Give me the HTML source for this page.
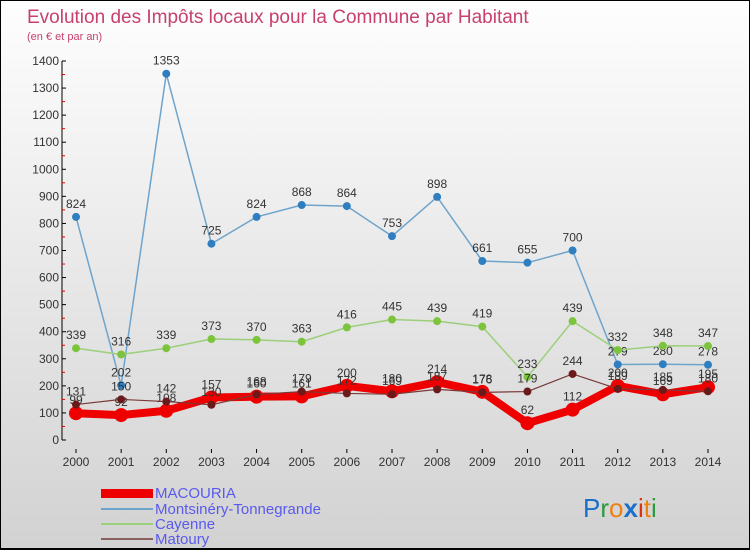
<!DOCTYPE html>
<html><head><meta charset="utf-8"><style>
body{margin:0}
#c{width:750px;height:550px;position:relative;overflow:hidden;background:linear-gradient(#fefefe,#d2d2d2);font-family:"Liberation Sans","DejaVu Sans",sans-serif;box-sizing:border-box;border:1px solid #000;border-bottom-width:2px}
svg text{font-family:"Liberation Sans","DejaVu Sans",sans-serif}
</style></head><body>
<div id="c">
<svg id="s" width="750" height="550" style="position:absolute;left:0;top:0">
<text x="26" y="22" font-size="19" fill="#c8406e">Evolution des Impôts locaux pour la Commune par Habitant</text>
<text x="26" y="39" font-size="11" fill="#c8406e">(en € et par an)</text>
<g id="axes"></g><g id="series"></g>
<g>
<rect x="100" y="488" width="52" height="9" fill="#e00"/>
<text x="154" y="497" font-size="15" fill="#5a5aee">MACOURIA</text>
<rect x="100" y="507" width="52" height="2" fill="#6ea4cc"/>
<text x="154" y="513" font-size="15" fill="#5a5aee">Montsinéry-Tonnegrande</text>
<rect x="100" y="522" width="52" height="2" fill="#9ccf7a"/>
<text x="154" y="528" font-size="15" fill="#5a5aee">Cayenne</text>
<rect x="100" y="537" width="52" height="2" fill="#8a6060"/>
<text x="154" y="543" font-size="15" fill="#5a5aee">Matoury</text>
</g>
<text x="582" y="516" font-size="26"><tspan fill="#1a6fc8">P</tspan><tspan fill="#2a9a3a">r</tspan><tspan fill="#f08010">o</tspan><tspan fill="#1a6fc8" font-weight="bold">x</tspan><tspan fill="#e03010">i</tspan><tspan fill="#f08010">t</tspan><tspan fill="#2a9a3a">i</tspan></text>
</svg>
</div>
<script>
const years=[2000,2001,2002,2003,2004,2005,2006,2007,2008,2009,2010,2011,2012,2013,2014];
const yTicks=[0,100,200,300,400,500,600,700,800,900,1000,1100,1200,1300,1400];
const macouria=[99,92,108,157,160,161,200,180,214,178,62,112,200,169,195];
const montsinery=[824,202,1353,725,824,868,864,753,898,661,655,700,279,280,278];
const cayenne=[339,316,339,373,370,363,416,445,439,419,233,439,332,348,347];
const matoury=[131,150,142,130,168,179,172,169,187,176,179,244,189,185,180];
const NS="http://www.w3.org/2000/svg";
const X=i=>75+i*(707-75)/(years.length-1);
const Y=v=>439-v*(439-60)/1400;
function mk(t,a,p){const e=document.createElementNS(NS,t);for(const k in a)e.setAttribute(k,a[k]);p.appendChild(e);return e;}
const ax=document.getElementById('axes'),sg=document.getElementById('series');
const yl=mk('line',{x1:61,y1:Y(1400),x2:61,y2:439,stroke:'#000'},ax);


yTicks.forEach(v=>{
 mk('line',{x1:61,y1:Y(v),x2:65,y2:Y(v),stroke:'#000'},ax);
 if(v<1400)mk('line',{x1:61,y1:Y(v+50),x2:64,y2:Y(v+50),stroke:'#e00'},ax);
 const t=mk('text',{x:58,y:Y(v)+4,'font-size':12,'text-anchor':'end',fill:'#333'},ax);
 t.textContent=v;
 
 
});
years.forEach((yr,i)=>{
 mk('line',{x1:X(i),y1:448,x2:X(i),y2:452,stroke:'#000'},ax);
 const t=mk('text',{x:X(i),y:465,'font-size':12,'text-anchor':'middle',fill:'#333'},ax);
 t.textContent=yr;
 
 
});
function series(name,data,color,w,r,dot){
 const g=mk('g',{},sg);
 
 
 mk('polyline',{points:data.map((v,i)=>X(i)+','+Y(v)).join(' '),fill:'none',stroke:color,'stroke-width':w,'stroke-linejoin':'round'},g);
 data.forEach((v,i)=>{
  const c=mk('circle',{cx:X(i),cy:Y(v),r:r,fill:dot},g);
  
  
  const t=mk('text',{x:X(i),y:Y(v)-9,'font-size':12,'text-anchor':'middle',fill:'#333'},g);
  t.textContent=v;
  
  
 });
}
series('montsinery',montsinery,'#6ea4cc',1.5,4,'#2f7fc0');
series('cayenne',cayenne,'#9ccf7a',1.5,4,'#7cc43c');
series('macouria',macouria,'#ee0000',8,7,'#ee0000');
series('matoury',matoury,'#7a3a3a',1.2,4,'#6a1a1a');
</script>
</body></html>
